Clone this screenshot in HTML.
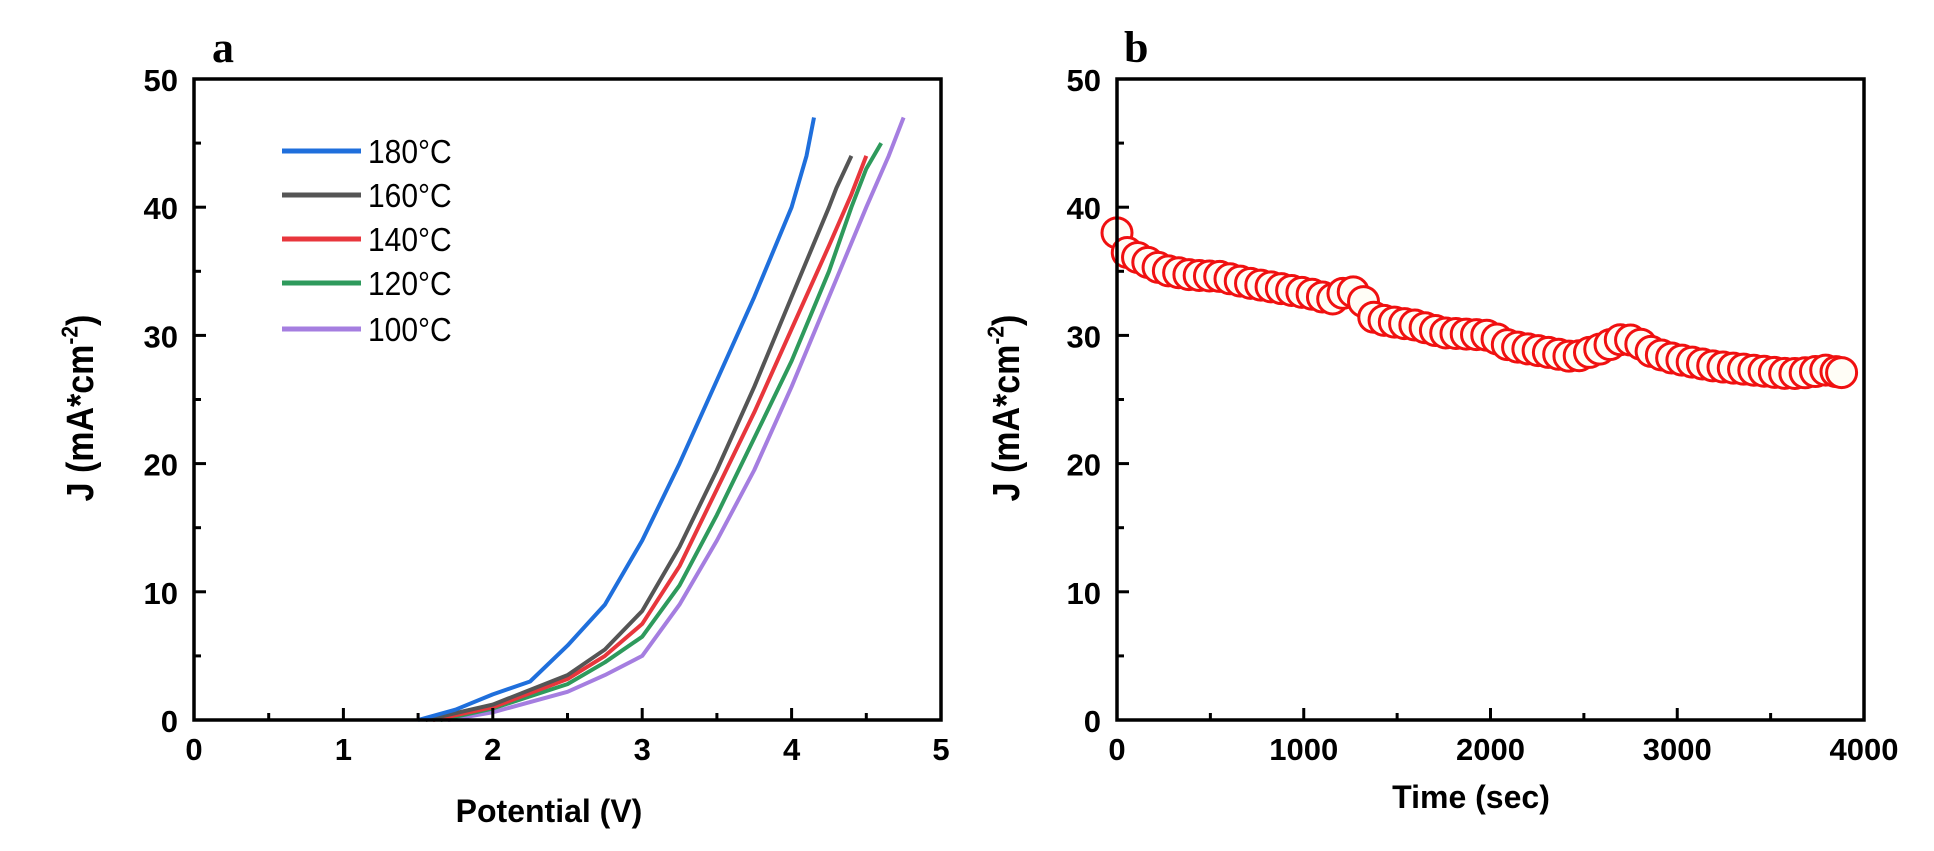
<!DOCTYPE html>
<html><head><meta charset="utf-8"><style>
html,body{margin:0;padding:0;background:#fff;}
svg{display:block;}
text{font-family:"Liberation Sans",Arial,sans-serif;}
</style></head><body>
<svg id="s" width="1934" height="851" xmlns="http://www.w3.org/2000/svg">
<rect width="1934" height="851" fill="#fff"/>
<text x="212" y="62" font-weight="bold" font-size="44" style="font-family:'Liberation Serif',serif">a</text>
<text x="1124" y="62" font-weight="bold" font-size="44" style="font-family:'Liberation Serif',serif">b</text>
<g id="A"></g><g id="B"></g>
<text transform="translate(93,408) rotate(-90) scale(1,1.12)" text-anchor="middle" font-weight="bold" font-size="34">J (mA*cm<tspan dy="-14" font-size="21">-2</tspan><tspan dy="14">)</tspan></text>
<text transform="translate(1019,408) rotate(-90) scale(1,1.12)" text-anchor="middle" font-weight="bold" font-size="34">J (mA*cm<tspan dy="-14" font-size="21">-2</tspan><tspan dy="14">)</tspan></text>
<text x="549" y="822" text-anchor="middle" font-weight="bold" font-size="32">Potential (V)</text>
<text x="1471" y="808" text-anchor="middle" font-weight="bold" font-size="32">Time (sec)</text>
</svg>
<script>
var NS="http://www.w3.org/2000/svg";
function el(p,t,a,txt){var e=document.createElementNS(NS,t);for(var k in a)e.setAttribute(k,a[k]);if(txt!==undefined)e.textContent=txt;p.appendChild(e);return e;}
var T=79,Bo=720;
function yv(v){return Bo-(Bo-T)*v/50;}
function axes(g,L,R,xmax,xstep,xminor){
  for(var v=0;v<=50;v+=5){var y=yv(v);var maj=v%10==0;
    if(v>0&&v<50)el(g,"line",{x1:L,x2:L+(maj?12:7),y1:y,y2:y,stroke:"#000","stroke-width":3});
    if(maj)el(g,"text",{x:L-16,y:y+12,"text-anchor":"end","font-weight":"bold","font-size":31},v);}
  for(var x=0;x<=xmax+1e-9;x+=xminor){var px=L+(R-L)*x/xmax;var maj=Math.abs(x/xstep-Math.round(x/xstep))<1e-6;
    if(x>0&&x<xmax-1e-9)el(g,"line",{x1:px,x2:px,y1:Bo,y2:Bo-(maj?12:7),stroke:"#000","stroke-width":3});
    if(maj)el(g,"text",{x:px,y:Bo+40,"text-anchor":"middle","font-weight":"bold","font-size":31},Math.round(x));}
}
var gA=document.getElementById("A"),gB=document.getElementById("B");
var La=194,Ra=941;
function xa(v){return La+(Ra-La)*v/5;}
var curves=[
["#1f6fdc",[[1.5,0],[1.75,0.8],[2,2],[2.25,3],[2.5,5.8],[2.75,9],[3,14],[3.25,20],[3.5,26.5],[3.75,33],[4,40],[4.1,44],[4.15,47]]],
["#555555",[[1.55,0],[2,1.2],[2.5,3.5],[2.75,5.5],[3,8.5],[3.25,13.5],[3.5,19.5],[3.75,26],[4,33],[4.25,40],[4.3,41.5],[4.4,44]]],
["#e8363c",[[1.6,0],[2,1],[2.5,3.2],[2.75,5],[3,7.5],[3.25,12],[3.5,18],[3.75,24],[4,30.5],[4.25,37],[4.4,41],[4.5,44]]],
["#2e9a5c",[[1.65,0],[2,0.9],[2.5,2.8],[2.75,4.5],[3,6.5],[3.25,10.5],[3.5,16],[3.75,22],[4,28],[4.25,35],[4.4,40],[4.5,43],[4.6,45]]],
["#a57ee0",[[1.7,0],[2,0.6],[2.5,2.2],[2.75,3.5],[3,5],[3.25,9],[3.5,14],[3.75,19.5],[4,26],[4.25,33],[4.5,40],[4.65,44],[4.75,47]]]];
curves.slice().reverse().forEach(function(c){
  var d=c[1].map(function(p,i){return (i?"L":"M")+xa(p[0]).toFixed(1)+","+yv(p[1]).toFixed(1);}).join(" ");
  el(gA,"path",{d:d,fill:"none",stroke:c[0],"stroke-width":4,"stroke-linejoin":"round"});
});
var labs=["180°C","160°C","140°C","120°C","100°C"],ly=[151,195,239,283,329];
for(var i=0;i<5;i++){el(gA,"line",{x1:282,x2:361,y1:ly[i],y2:ly[i],stroke:curves[i][0],"stroke-width":5});
  el(gA,"text",{x:368,y:ly[i]+11,"font-size":30,transform:"translate(0,"+(ly[i])+") scale(1,1.1) translate(0,"+(-ly[i])+")"},labs[i]);}
axes(gA,La,Ra,5,1,0.5);
el(gA,"rect",{x:La,y:T,width:Ra-La,height:Bo-T,fill:"none",stroke:"#000","stroke-width":3.5});
var Lb=1117,Rb=1864;
function xb(v){return Lb+(Rb-Lb)*v/4000;}
var key=[[0,38],[50,36.5],[150,35.8],[250,35.1],[400,34.7],[550,34.6],[700,34.1],[900,33.6],[1050,33.2],[1150,32.8],[1250,33.6],[1330,32.5],[1380,31.3],[1500,31],[1600,30.8],[1750,30.2],[2000,30],[2100,29.2],[2300,28.7],[2450,28.3],[2600,29],[2700,29.7],[2780,29.6],[2850,28.8],[2950,28.3],[3050,28],[3200,27.6],[3400,27.3],[3600,27],[3700,27.1],[3800,27.3],[3880,27.1]];
function interp(t){for(var i=1;i<key.length;i++){if(t<=key[i][0]){var a=key[i-1],b=key[i];return a[1]+(b[1]-a[1])*(t-a[0])/(b[0]-a[0]);}}return key[key.length-1][1];}
for(var t=0;t<=3880;t+=55){
  el(gB,"circle",{cx:xb(t),cy:yv(interp(t)),r:15,fill:"#fffdf6",stroke:"#f01010","stroke-width":3});
}
el(gB,"circle",{cx:xb(3880),cy:yv(27.1),r:15,fill:"#fffdf6",stroke:"#f01010","stroke-width":3});
axes(gB,Lb,Rb,4000,1000,500);
el(gB,"rect",{x:Lb,y:T,width:Rb-Lb,height:Bo-T,fill:"none",stroke:"#000","stroke-width":3.5});
</script>
</body></html>
